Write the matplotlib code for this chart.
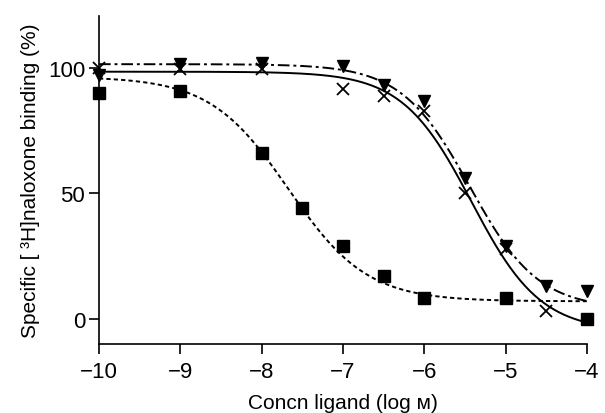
import numpy as np
import matplotlib
matplotlib.use('Agg')
import matplotlib.pyplot as plt

plt.rcParams['font.family'] = ['Liberation Sans', 'DejaVu Sans']

# log concentration of ligand
x_sq = [-10, -9, -8, -7.5, -7, -6.5, -6, -5, -4]
y_sq = [90, 91, 66, 44, 29, 17, 8.5, 8.5, 0]

x_tri = [-10, -9, -8, -7, -6.5, -6, -5.5, -5, -4.5, -4]
y_tri = [97, 101.5, 102, 100.8, 93, 87, 56, 29, 13, 11]

x_cross = [-10, -9, -8, -7, -6.5, -6, -5.5, -5, -4.5]
y_cross = [100, 99.6, 99.6, 91.6, 89, 83, 50, 28, 3]

# fitted curve parameters: top, bottom, log IC50, slope
fit_sq = [96.5, 7, -7.67, 0.9]
fit_cross = [98.5, -5, -5.42, 1.02]
fit_tri = [101.5, 4, -5.44, 1.03]


def hill(x, p):
  top, bot, c, n = p
  return bot + (top - bot) / (1 + 10 ** ((x - c) * n))


fig = plt.figure(figsize=(6.05, 4.14), dpi=100)
ax = fig.add_axes([0.1636, 0.1667, 0.8064, 0.7923])

xs = np.linspace(-10, -4, 300)
ax.plot(xs, hill(xs, fit_sq), color='black', lw=1.4, ls=(0, (2.2, 1.6)))
ax.plot(xs, hill(xs, fit_cross), color='black', lw=1.4, ls='-')
ax.plot(xs, hill(xs, fit_tri), color='black', lw=1.4, ls=(0, (6, 2, 1.5, 2)))

ax.plot(x_sq, y_sq, 's', color='black', ms=8, clip_on=False, zorder=5)
ax.plot(x_tri, y_tri, 'v', color='black', ms=9, clip_on=False, zorder=5)
ax.plot(x_cross, y_cross, 'x', color='black', ms=8, mew=1.3, clip_on=False, zorder=5)

ax.set_xlim(-10, -4)
ax.set_ylim(-10, 120.7)
ax.set_xticks([-10, -9, -8, -7, -6, -5, -4])
ax.set_xticklabels(['\u221210', '\u22129', '\u22128', '\u22127', '\u22126', '\u22125', '\u22124'])
ax.set_yticks([0, 50, 100])

for s in ['top', 'right']:
  ax.spines[s].set_visible(False)
for s in ['left', 'bottom']:
  ax.spines[s].set_linewidth(1.2)

ax.tick_params(direction='out', length=7, width=1.2, labelsize=16, pad=3)
ax.tick_params(axis='x', pad=5)

ax.set_xlabel('Concn ligand (log \u1d0d)', fontsize=15, labelpad=8)
ax.set_ylabel('Specific [ \u00b3H]naloxone binding (%)', fontsize=15, labelpad=6)

fig.savefig('out.png', dpi=100)
